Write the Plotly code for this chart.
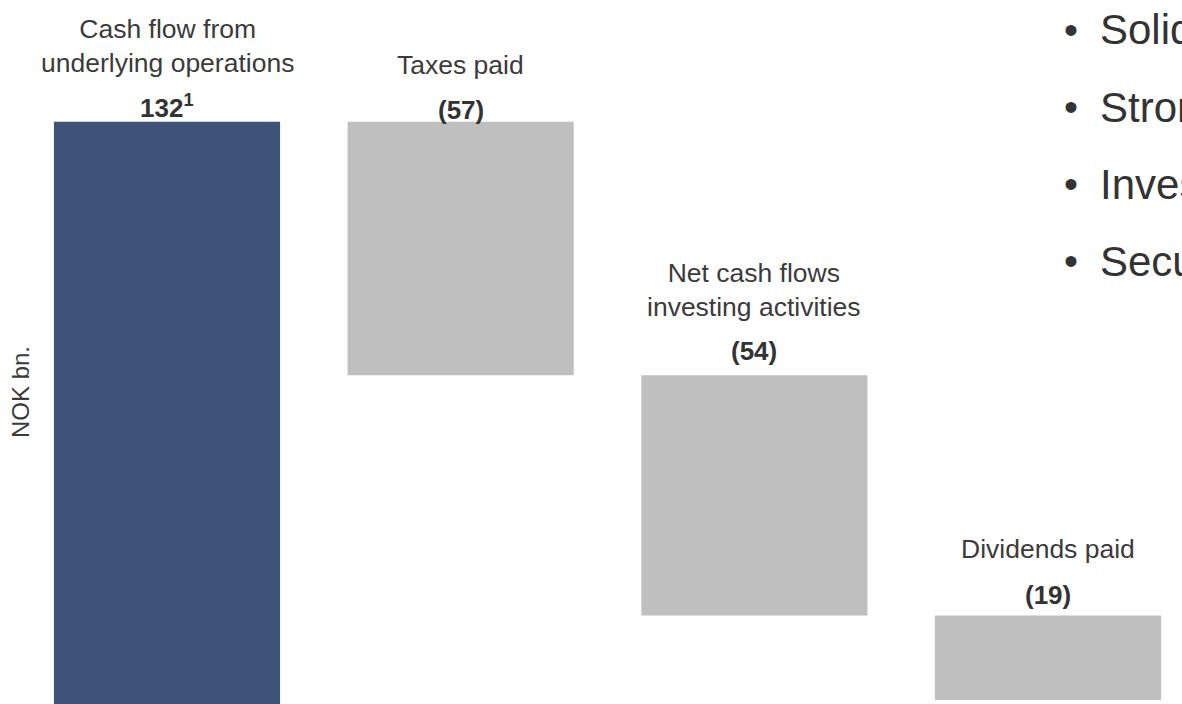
import plotly.graph_objects as go

categories = ["Cash flow from<br>underlying operations", "Taxes paid",
              "Net cash flows<br>investing activities", "Dividends paid"]
values = [132, -57, -54, -19]
value_labels = ["132<sup>1</sup>", "(57)", "(54)", "(19)"]
bullets = ["Solid", "Strong", "Investments", "Secure"]
y_title = "NOK bn."

# style: pixel offsets of labels above each bar top
VALUE_SHIFT = [15, 12, 24, 21]
CAT_SHIFT = [42, 40, 51, 50]

FONT = "Liberation Sans, Arial, sans-serif"
NAVY = "#3F5277"
GREY = "#BFBFBF"
TXT = "#3B3B3B"

x_idx = list(range(len(categories)))

fig = go.Figure(go.Waterfall(
    x=x_idx,
    y=values,
    measure=["relative"] * len(values),
    increasing=dict(marker=dict(color=NAVY)),
    decreasing=dict(marker=dict(color=GREY)),
    connector=dict(visible=False),
    width=0.77,
    textposition="none",
    hoverinfo="skip",
))

# running top of each bar
tops = []
run = 0
for v in values:
    start = run
    run += v
    tops.append(max(start, run))

annotations = []
for i, (cat, lab, top) in enumerate(zip(categories, value_labels, tops)):
    annotations.append(dict(
        x=i, y=top, xref="x", yref="y", text="<b>" + lab + "</b>",
        showarrow=False, yanchor="middle", yshift=VALUE_SHIFT[i],
        font=dict(family=FONT, size=26, color="#333333")))
    annotations.append(dict(
        x=i, y=top, xref="x", yref="y", text=cat,
        showarrow=False, yanchor="bottom", yshift=CAT_SHIFT[i],
        font=dict(family=FONT, size=26.5, color=TXT)))

annotations.append(dict(
    x=21 / 1182, y=1 - 392 / 704, xref="paper", yref="paper",
    text=y_title, textangle=-90, showarrow=False,
    xanchor="center", yanchor="middle",
    font=dict(family=FONT, size=24, color=TXT)))

row_y = [30, 107, 184, 261]
for b, ry in zip(bullets, row_y):
    annotations.append(dict(
        x=1071 / 1182, y=1 - ry / 704, xref="paper", yref="paper",
        text="•", showarrow=False, xanchor="center", yanchor="middle",
        font=dict(family=FONT, size=40, color="#333333")))
    annotations.append(dict(
        x=1098 / 1182, y=1 - ry / 704, xref="paper", yref="paper",
        text=b, showarrow=False, xanchor="left", yanchor="middle",
        font=dict(family=FONT, size=42, color="#333333")))

fig.update_layout(
    width=1182, height=704,
    margin=dict(l=0, r=0, t=0, b=0),
    paper_bgcolor="white", plot_bgcolor="white",
    showlegend=False,
    xaxis=dict(range=[-0.5687, 3.4563], visible=False, showgrid=False, zeroline=False),
    yaxis=dict(range=[1.1, 159.4], visible=False, showgrid=False, zeroline=False),
    annotations=annotations,
)

fig.write_html("out.html")
